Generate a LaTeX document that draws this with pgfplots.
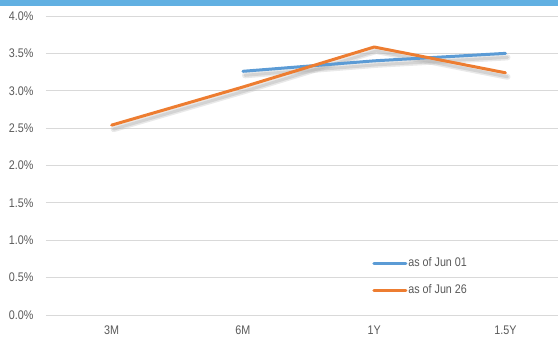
\documentclass[border=0pt]{standalone}
\usepackage{fontspec}
\setmainfont{Liberation Sans}[FakeStretch=0.86]
\usepackage{pgfplots}
\pgfplotsset{compat=1.18}
\definecolor{sblue}{HTML}{5B9BD5}
\definecolor{sorange}{HTML}{ED7D31}
\definecolor{titleblue}{RGB}{97,176,226}
\definecolor{txtgray}{HTML}{595959}
\definecolor{gridgray}{HTML}{D9D9D9}
\begin{document}
\begin{tikzpicture}[x=1pt,y=1pt]
\useasboundingbox (-46,-29) rectangle (512,315);
\fill[titleblue] (-46,309) rectangle (512,315);
\begin{axis}[
  at={(0,0)}, anchor=south west,
  scale only axis, width=512pt, height=299pt,
  xmin=-0.5, xmax=3.40, ymin=0, ymax=4,
  axis line style={draw=none},
  major tick length=0pt,
  xtick={0,1,2,3},
  xticklabels={3M,6M,1Y,1.5Y},
  ytick={0,0.5,...,4},
  ymajorgrids, grid style={gridgray, line width=0.9pt},
  /pgf/number format/assume math mode=true,
  yticklabel={\pgfmathprintnumber[fixed,fixed zerofill,precision=1]{\tick}\%},
  ticklabel style={font=\fontsize{12.5}{13}\selectfont, text=txtgray},
  yticklabel style={anchor=east, xshift=-9pt},
  xticklabel style={anchor=north, yshift=-7pt},
  legend style={at={(rel axis cs:0.637,0.195)}, anchor=north west, draw=none, fill=none,
    font=\fontsize{12.5}{13}\selectfont, text=txtgray, row sep=14.5pt, inner sep=0pt,
    nodes={inner sep=1pt}},
  legend cell align=left,
  legend image code/.code={\draw[#1, line width=3pt, line cap=round] (0pt,0pt) -- (32pt,0pt);},
  clip=false,
]
\addplot[black!25, opacity=0.35, line width=6pt, line cap=round, line join=round, shift={(2pt,-4pt)}, forget plot]
  coordinates {(1,3.26) (2,3.40) (3,3.50)};
\addplot[black!25, opacity=0.35, line width=6pt, line cap=round, line join=round, shift={(2pt,-4pt)}, forget plot]
  coordinates {(0,2.54) (1,3.05) (2,3.585) (3,3.24)};
\addplot[black!30, opacity=0.4, line width=3pt, line cap=round, line join=round, shift={(2pt,-4pt)}, forget plot]
  coordinates {(1,3.26) (2,3.40) (3,3.50)};
\addplot[black!30, opacity=0.4, line width=3pt, line cap=round, line join=round, shift={(2pt,-4pt)}, forget plot]
  coordinates {(0,2.54) (1,3.05) (2,3.585) (3,3.24)};
\addplot[sblue, line width=3pt, line cap=round, line join=round]
  coordinates {(1,3.26) (2,3.40) (3,3.50)};
\addlegendentry{as of Jun 01}
\addplot[sorange, line width=3pt, line cap=round, line join=round]
  coordinates {(0,2.54) (1,3.05) (2,3.585) (3,3.24)};
\addlegendentry{as of Jun 26}
\end{axis}
\end{tikzpicture}
\end{document}
